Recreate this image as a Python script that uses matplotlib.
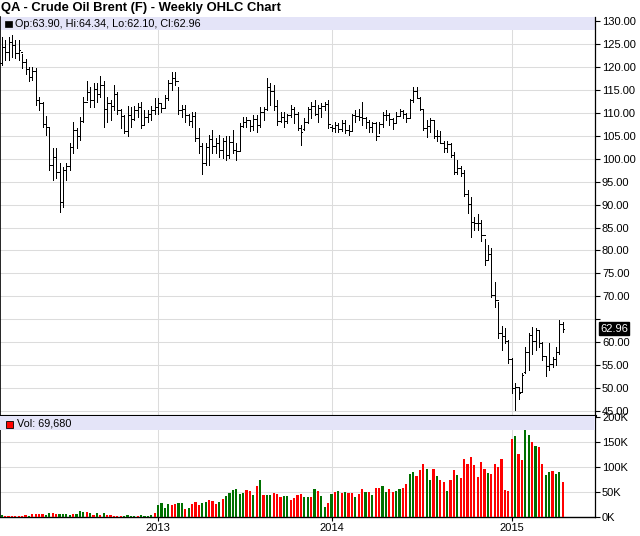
import numpy as np
import matplotlib
matplotlib.use("Agg")
import matplotlib.pyplot as plt
from matplotlib.patches import Rectangle

plt.rcParams['font.family'] = ['Liberation Sans', 'DejaVu Sans']

# weekly OHLC, Feb 2012 - Apr 2015
opens = [
    121.0, 124.4, 123.3, 125.5, 124.9, 123.2, 123.4, 121.1, 119.6, 117.9,
    119.2, 112.8, 112.2, 107.6, 106.9, 98.6, 100.4, 97.2, 90.6, 97.6,
    98.4, 102.6, 106.4, 105.0, 108.3, 112.4, 114.6, 112.8, 115.3, 114.1,
    116.2, 111.0, 112.3, 111.6, 114.2, 110.6, 109.4, 106.0, 109.6, 108.8,
    110.7, 111.3, 107.4, 109.1, 109.8, 110.6,
    111.4, 112.1, 111.2, 113.3, 116.6, 117.7, 117.0, 110.6, 110.9, 109.6,
    108.2, 109.3, 104.5, 102.9, 99.2, 102.5, 104.3, 102.8, 103.4, 101.9,
    103.9, 100.8, 103.6, 102.0, 101.8, 107.2, 108.0, 108.4, 107.1, 108.6,
    107.5, 110.2, 110.9, 115.6, 114.9, 111.6, 108.3, 109.2, 108.3, 109.5,
    110.8, 109.8, 106.8, 106.5, 108.0, 110.9, 111.6, 109.9, 111.1, 111.5,
    111.9,
    107.0, 106.7, 107.3, 106.5, 107.9, 106.4, 106.0, 109.6, 109.3, 109.1,
    109.0, 108.0, 106.9, 107.9, 105.0, 107.6, 109.5, 109.6, 108.6, 107.9,
    109.4, 110.5, 109.7, 108.9, 112.9, 114.8, 113.3, 111.0, 106.7, 107.2,
    108.4, 105.0, 105.0, 103.5, 102.3, 103.2, 100.8, 97.1, 98.0, 97.0,
    92.3, 90.2, 86.2, 86.1, 85.9, 83.4, 77.9, 79.3, 70.2, 69.1,
    61.9, 61.4, 60.2,
    56.2, 50.0, 50.2, 49.2, 53.4, 57.8, 61.5, 60.2, 62.6, 59.7,
    57.0, 54.7, 55.3, 56.4, 57.9, 63.90,
]
highs = [
    126.7, 126.0, 126.7, 127.1, 126.0, 126.0, 123.0, 121.8, 120.1, 120.1,
    119.8, 113.6, 112.5, 109.4, 107.0, 102.3, 102.3, 99.0, 98.3, 99.0,
    103.4, 108.1, 106.7, 109.1, 113.6, 116.9, 115.8, 116.5, 116.5, 118.0,
    116.9, 113.6, 112.9, 116.1, 114.7, 111.0, 109.6, 111.5, 111.4, 111.5,
    112.1, 112.5, 110.7, 110.7, 111.5, 113.2,
    113.2, 112.1, 113.9, 117.2, 119.0, 119.0, 115.8, 111.8, 111.8, 109.9,
    110.3, 110.3, 106.7, 103.4, 103.4, 105.2, 106.3, 104.5, 105.2, 104.5,
    104.9, 105.0, 106.3, 103.4, 107.8, 109.2, 109.2, 108.5, 109.6, 109.6,
    111.4, 111.4, 117.6, 116.5, 116.1, 112.9, 110.3, 110.3, 109.9, 111.8,
    111.4, 110.3, 107.4, 108.9, 111.4, 112.5, 112.9, 111.8, 112.1, 112.5,
    112.9,
    107.4, 108.1, 107.8, 108.5, 108.5, 107.4, 109.9, 110.7, 111.0, 112.5,
    109.2, 108.5, 108.1, 108.1, 108.1, 110.3, 110.7, 110.0, 108.9, 110.3,
    111.0, 110.7, 110.0, 113.0, 115.8, 115.6, 113.5, 111.0, 108.5, 108.9,
    108.5, 106.3, 106.0, 103.9, 104.0, 103.4, 101.5, 99.8, 98.5, 97.6,
    93.2, 91.7, 87.4, 87.9, 86.7, 82.5, 81.2, 80.5, 73.2, 68.8,
    63.5, 63.0, 60.5,
    56.5, 51.0, 50.3, 53.2, 59.0, 61.9, 63.2, 63.0, 62.6, 60.1,
    56.8, 59.7, 56.8, 59.0, 64.8, 64.34,
]
lows = [
    120.5, 121.6, 121.6, 122.3, 122.0, 121.6, 119.8, 118.6, 116.9, 117.2,
    111.8, 110.7, 107.0, 105.2, 97.6, 95.4, 95.8, 88.5, 89.6, 95.4,
    97.6, 101.2, 102.3, 104.1, 108.1, 112.9, 111.4, 111.4, 112.5, 113.6,
    107.0, 108.1, 108.5, 110.7, 109.9, 106.7, 105.6, 104.9, 107.0, 108.5,
    109.2, 106.7, 107.4, 108.1, 108.5, 109.9,
    109.9, 110.3, 111.4, 112.9, 115.0, 116.1, 109.9, 109.2, 108.1, 107.4,
    107.0, 103.8, 101.2, 96.8, 98.7, 98.7, 101.2, 101.2, 100.5, 100.1,
    99.7, 100.1, 101.2, 99.7, 101.9, 107.0, 107.0, 106.0, 106.3, 105.9,
    107.0, 108.5, 110.7, 111.8, 110.7, 107.4, 108.1, 107.0, 107.8, 109.2,
    107.8, 106.3, 103.0, 106.3, 107.8, 108.9, 109.6, 108.1, 109.2, 110.7,
    106.7,
    106.0, 105.9, 105.9, 106.0, 105.6, 105.2, 106.3, 108.1, 108.5, 107.4,
    106.7, 105.9, 105.9, 104.1, 105.6, 107.0, 108.5, 107.4, 106.5, 107.8,
    109.6, 108.9, 108.0, 108.9, 112.5, 113.2, 110.7, 106.3, 104.8, 105.9,
    104.5, 103.8, 103.5, 101.5, 101.5, 100.5, 96.8, 96.8, 96.2, 91.8,
    88.1, 83.0, 84.5, 84.5, 82.1, 76.8, 77.9, 69.9, 67.7, 60.8,
    58.3, 59.7, 55.4,
    48.8, 45.2, 47.5, 49.0, 53.2, 53.9, 57.5, 58.3, 59.0, 56.1,
    52.5, 53.9, 54.6, 55.0, 57.5, 62.10,
]
closes = [
    124.4, 123.3, 125.5, 124.9, 123.2, 123.8, 121.1, 119.6, 117.9, 119.2,
    112.8, 112.2, 107.6, 106.9, 98.6, 100.4, 97.2, 90.6, 97.6, 98.4,
    102.6, 106.4, 105.0, 108.3, 112.4, 114.6, 112.8, 115.3, 114.1, 116.2,
    111.0, 112.3, 111.6, 114.2, 110.6, 109.4, 106.0, 109.6, 108.8, 110.7,
    111.3, 107.4, 109.1, 109.8, 110.6, 111.4,
    112.1, 111.2, 113.3, 116.6, 117.7, 117.0, 110.6, 110.9, 109.6, 108.2,
    109.3, 104.5, 102.9, 99.2, 102.5, 104.3, 102.8, 103.4, 101.9, 103.9,
    100.8, 103.6, 102.0, 101.8, 107.2, 108.0, 108.4, 107.1, 108.6, 107.5,
    110.2, 110.9, 115.6, 114.9, 111.6, 108.3, 109.2, 108.3, 109.5, 110.8,
    109.8, 106.8, 105.8, 108.0, 110.9, 111.6, 109.9, 111.1, 111.5, 111.9,
    107.6,
    106.7, 107.3, 106.5, 107.9, 106.4, 106.0, 109.6, 109.3, 109.1, 109.0,
    108.0, 106.9, 107.9, 105.0, 107.6, 109.5, 109.6, 108.6, 107.9, 109.4,
    110.5, 109.7, 108.9, 112.9, 114.8, 113.3, 111.0, 106.7, 107.2, 108.4,
    105.0, 105.0, 103.5, 102.3, 103.2, 100.8, 97.1, 98.0, 97.0, 92.3,
    90.2, 86.2, 86.1, 85.9, 83.4, 77.9, 79.3, 70.2, 69.1, 61.9,
    61.4, 60.2, 56.4,
    50.0, 50.2, 48.8, 52.9, 57.8, 61.5, 60.2, 62.6, 59.7, 57.0,
    54.7, 55.3, 56.4, 57.9, 63.9, 62.96,
]

# weekly volume in thousands and bar colour (g = up week, r = down week)
volume_k = [
    4, 2, 2, 2, 2, 3, 3, 4, 2, 6,
    6, 6, 6, 4, 8, 8, 6, 6, 6, 6,
    4, 6, 6, 12, 10, 10, 8, 4, 8, 4,
    8, 4, 4, 2, 2, 2, 2, 4, 2, 2,
    2, 4, 2, 2, 4, 8,
    24, 28, 18, 26, 24, 26, 28, 28, 16, 18,
    26, 30, 24, 28, 30, 34, 32, 26, 30, 36,
    42, 48, 54, 56, 46, 48, 54, 52, 44, 62,
    74, 44, 44, 44, 48, 46, 40, 42, 42, 34,
    38, 44, 46, 40, 40, 40, 56, 52, 42, 20,
    28,
    46, 50, 52, 48, 50, 48, 48, 40, 46, 56,
    50, 50, 44, 58, 58, 62, 50, 56, 50, 52,
    56, 58, 66, 86, 90, 82, 94, 106, 96, 74,
    96, 82, 74, 71, 52, 74, 94, 84, 78, 116,
    106, 120, 104, 80, 110, 96, 88, 86, 106, 100,
    116, 54, 52,
    156, 162, 126, 114, 179, 164, 150, 142, 140, 106,
    84, 90, 92, 86, 90, 69.68,
]
volume_dir = (
    "grrrrrrrgr" "rrrggrrggg" "grgggrgrgr" "grrrrrgggg" "rggggr"
    "ggggrrggrg" "rrrggrrrgr" "ggggggrrgr" "grggrrrggr" "rrrggrgrgg" "r"
    "grgrgrrgrr" "grgrrggrrg" "grrggrrrgg" "rgrrgrrgrr" "rrrrrrgrrr" "rrr"
    "rgrrggrgrr" "ggrggr"
)

op, hi, lo, cl = 63.90, 64.34, 62.10, 62.96
last_vol = "69,680"

year_labels = ["2013", "2014", "2015"]
year_start = [46, 97, 150]

W, H = 640, 536
grid_c = "#dcdcdc"
band_c = "#e4e4f8"


def box(x0, y0, x1, y1):
    return [x0 / W, 1 - y1 / H, (x1 - x0) / W, (y1 - y0) / H]


fig = plt.figure(figsize=(W / 100, H / 100), dpi=100)
ax = fig.add_axes(box(0, 17, 595, 416))
axv = fig.add_axes(box(0, 416, 595, 517), sharex=ax)

idx = np.arange(len(closes))

# price panel: high-low stem, open tick left, close tick right
ax.vlines(idx, lows, highs, color="black", lw=0.6, antialiased=False, zorder=3)
ax.hlines(opens, idx - 0.45, idx, color="black", lw=0.6, antialiased=False, zorder=3)
ax.hlines(closes, idx, idx + 0.45, color="black", lw=0.6, antialiased=False, zorder=3)

ax.set_xlim(-0.5, 174.5)
ax.set_ylim(43.86, 130.98)
ticks = np.arange(45, 131, 5)
ax.set_yticks(ticks)
ax.set_yticklabels(["" if v == 65 else "%.2f" % v for v in ticks])
ax.yaxis.tick_right()
ax.tick_params(axis="y", length=3.5, width=0.8, pad=1.5, labelsize=8, colors="black")
ax.tick_params(axis="x", length=0, labelbottom=False)
ax.set_xticks(year_start)
ax.grid(True, color=grid_c, lw=0.75)
ax.set_axisbelow(True)
ax.spines["top"].set_visible(False)
ax.spines["bottom"].set_linewidth(2.2)
ax.spines["left"].set_linewidth(1.2)
ax.spines["right"].set_linewidth(0.9)
ax.axhspan(128.25, 131, color=band_c, zorder=2, lw=0)
ax.text(15 / 595, 1 - 6.6 / 399, "Op:%.2f, Hi:%.2f, Lo:%.2f, Cl:%.2f" % (op, hi, lo, cl),
        transform=ax.transAxes, fontsize=7.8, va="center", ha="left", zorder=5)
ax.add_patch(Rectangle((5 / 595, 1 - 10 / 399), 6.5 / 595, 6.5 / 399,
                       transform=ax.transAxes, facecolor="black", edgecolor="black",
                       lw=0.5, zorder=5, clip_on=False))
ax.text(1.0 + 5.5 / 595, cl, "%.2f" % cl, transform=ax.get_yaxis_transform(),
        color="white", fontsize=8, va="center", ha="left",
        bbox=dict(boxstyle="square,pad=0.1", facecolor="black", edgecolor="black"))

# volume panel
vcolors = ["#007000" if d == "g" else "#ff0000" for d in volume_dir]
axv.bar(idx, np.array(volume_k) * 1000, width=0.62, color=vcolors, lw=0, zorder=3)
axv.set_ylim(0, 202000)
axv.set_yticks([0, 50000, 100000, 150000, 200000])
axv.set_yticklabels(["0K", "50K", "100K", "150K", "200K"])
axv.yaxis.tick_right()
axv.tick_params(axis="y", length=3.5, width=0.8, pad=1.5, labelsize=8)
axv.set_xticks(year_start)
axv.set_xticklabels(year_labels)
axv.tick_params(axis="x", length=3, width=0.8, pad=1.5, labelsize=8)
axv.grid(True, color=grid_c, lw=0.75)
axv.set_axisbelow(True)
axv.spines["top"].set_linewidth(2.2)
axv.spines["left"].set_linewidth(1.2)
axv.spines["right"].set_linewidth(0.9)
axv.spines["bottom"].set_linewidth(1.0)
axv.axhspan(175000, 202000, color=band_c, zorder=4, lw=0)
axv.text(17 / 595, 1 - 7.5 / 101, "Vol: " + last_vol, transform=axv.transAxes,
         fontsize=7.8, va="center", ha="left", zorder=5)
axv.add_patch(Rectangle((6 / 595, 1 - 11.5 / 101), 6.5 / 595, 6.5 / 101,
                        transform=axv.transAxes, facecolor="#ff0000", edgecolor="black",
                        lw=0.6, zorder=5, clip_on=False))

fig.text(1 / W, 1 - 7.5 / H, "QA - Crude Oil Brent (F) - Weekly OHLC Chart",
         fontsize=9.4, fontweight="bold", va="center", ha="left")

fig.savefig("out.png", dpi=100)
